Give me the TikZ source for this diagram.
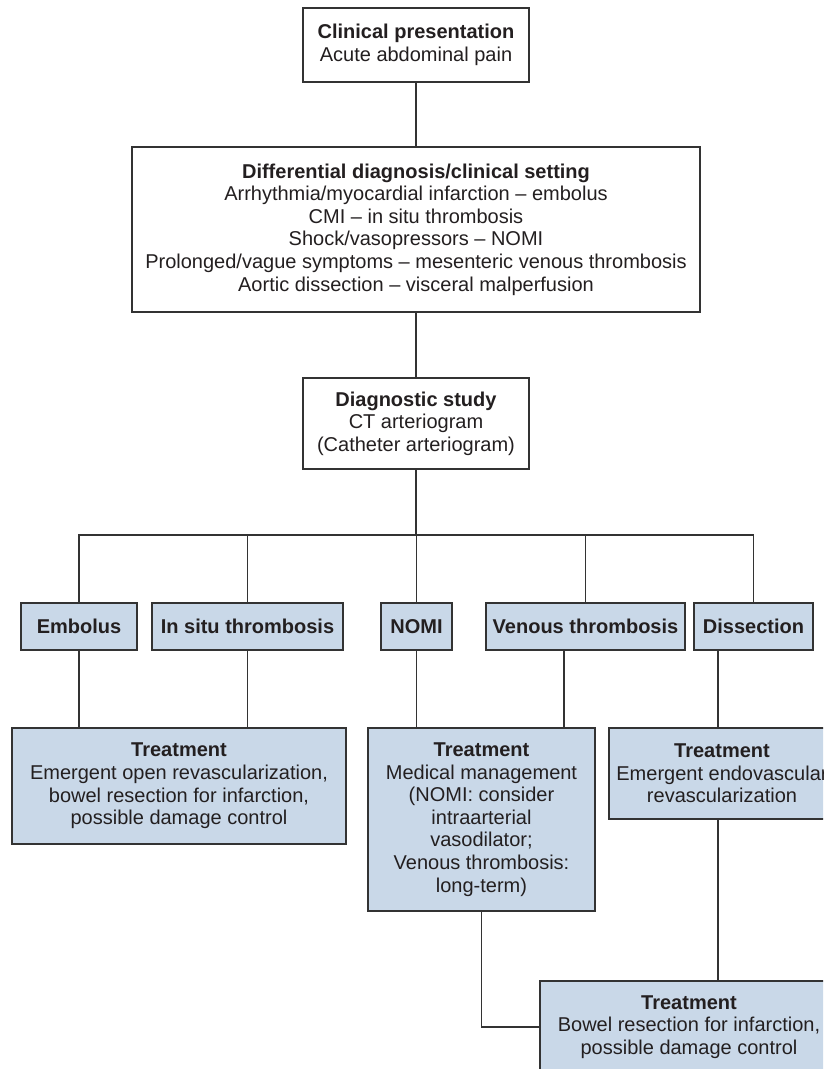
\documentclass[tikz,border=0pt]{standalone}
\usepackage{fontspec}
\setmainfont{Liberation Sans}
\definecolor{boxblue}{RGB}{201,216,232}
\definecolor{edge}{RGB}{51,51,51}
\definecolor{ink}{RGB}{35,31,32}
\newcommand{\chartfont}{\fontsize{20}{22.6}\selectfont}
\begin{document}
\begin{tikzpicture}[x=1pt,y=-1pt,
  box/.style={draw=edge, line width=1.2pt, fill=white, text=ink,
    align=center, inner sep=0pt, font=\chartfont},
  bluebox/.style={box, fill=boxblue},
  link/.style={draw=edge, line width=1.2pt}]

\useasboundingbox (0,0) rectangle (823,1069);
\clip (0,0) rectangle (823,1069);

% upper chain
\node[box, minimum width=226, minimum height=74] (top) at (416,45)
  {\textbf{Clinical presentation}\\Acute abdominal pain};
\node[box, minimum width=568, minimum height=165] (diff) at (416,229.5)
  {\textbf{Differential diagnosis/clinical setting}\\
   Arrhythmia/myocardial infarction -- embolus\\
   CMI -- in situ thrombosis\\
   Shock/vasopressors -- NOMI\\
   Prolonged/vague symptoms -- mesenteric venous thrombosis\\
   Aortic dissection -- visceral malperfusion};
\node[box, minimum width=226, minimum height=91] (diag) at (416,423.5)
  {\textbf{Diagnostic study}\\CT arteriogram\\(Catheter arteriogram)};

% diagnoses
\node[bluebox, minimum width=116, minimum height=47] (emb) at (79,626.5) {\textbf{Embolus}};
\node[bluebox, minimum width=191, minimum height=47] (insitu) at (247.5,626.5) {\textbf{In situ thrombosis}};
\node[bluebox, minimum width=71, minimum height=47] (nomi) at (416.5,626.5) {\textbf{NOMI}};
\node[bluebox, minimum width=199, minimum height=47] (venous) at (585.5,626.5) {\textbf{Venous thrombosis}};
\node[bluebox, minimum width=119, minimum height=47] (diss) at (753.5,626.5) {\textbf{Dissection}};

% treatments
\node[bluebox, minimum width=334, minimum height=116] (tr1) at (179,786)
  {\textbf{Treatment}\\Emergent open revascularization,\\bowel resection for infarction,\\possible damage control};
\node[bluebox, minimum width=227, minimum height=183] (tr2) at (481.5,819.5)
  {\textbf{Treatment}\\Medical management\\(NOMI: consider\\intraarterial\\vasodilator;\\Venous thrombosis:\\long-term)};
\node[bluebox, minimum width=226, minimum height=91] (tr3) at (722,773.5)
  {\textbf{Treatment}\\Emergent endovascular\\revascularization};
\node[bluebox, minimum width=298, minimum height=92] (tr4) at (689,1027)
  {\textbf{Treatment}\\Bowel resection for infarction,\\possible damage control};

% connectors
\coordinate (hub) at (416,535);
\coordinate (vx) at (564,0);
\coordinate (dx) at (718,0);

\draw[link] (top.south) -- (diff.north);
\draw[link] (diff.south) -- (diag.north);
\draw[link] (diag.south) -- (hub);
\draw[link] (emb.north) |- (hub) -| (diss.north);
\draw[link] (insitu.north) -- (insitu.north |- hub);
\draw[link] (nomi.north) -- (nomi.north |- hub);
\draw[link] (venous.north) -- (venous.north |- hub);

\draw[link] (emb.south) -- (emb.south |- tr1.north);
\draw[link] (insitu.south) -- (insitu.south |- tr1.north);
\draw[link] (nomi.south) -- (nomi.south |- tr2.north);
\draw[link] (vx |- venous.south) -- (vx |- tr2.north);
\draw[link] (dx |- diss.south) -- (dx |- tr3.north);
\draw[link] (dx |- tr3.south) -- (dx |- tr4.north);
\draw[link] (tr2.south) |- (tr4.west);
\end{tikzpicture}
\end{document}
